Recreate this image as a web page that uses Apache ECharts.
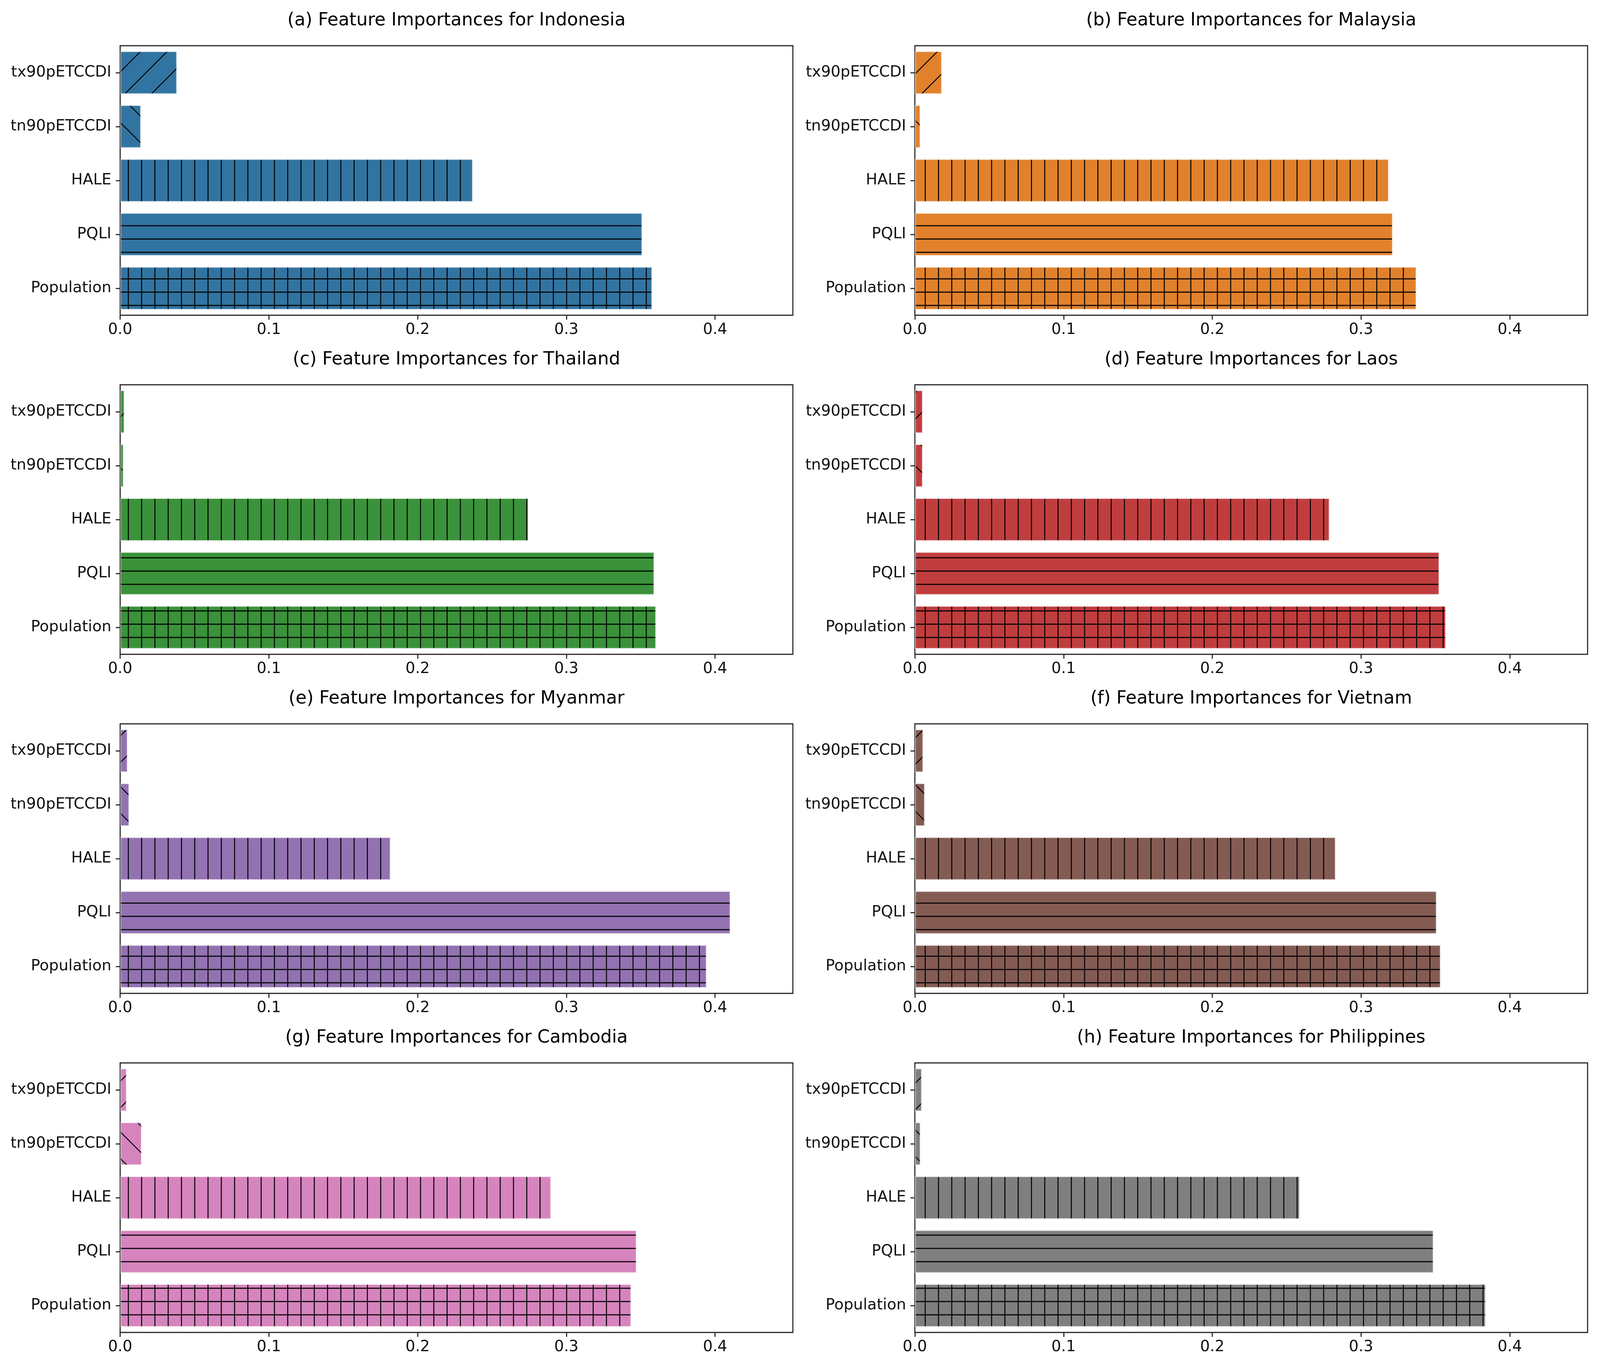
<!DOCTYPE html>
<html>
<head>
<meta charset="utf-8">
<script src="https://cdn.jsdelivr.net/npm/echarts@6/dist/echarts.min.js"></script>
<style>
html,body{margin:0;padding:0;background:#fff;overflow:hidden;}
#chart{width:100vw;height:100vh;}
</style>
</head>
<body>
<div id="chart"></div>
<script>
// ---- data ----
const features = ['tx90pETCCDI', 'tn90pETCCDI', 'HALE', 'PQLI', 'Population'];
const countries = ['Indonesia', 'Malaysia', 'Thailand', 'Laos', 'Myanmar', 'Vietnam', 'Cambodia', 'Philippines'];
const panelLetters = ['a', 'b', 'c', 'd', 'e', 'f', 'g', 'h'];
const indonesia   = [0.0383, 0.0141, 0.2372, 0.3511, 0.3578];
const malaysia    = [0.0183, 0.0038, 0.3187, 0.3214, 0.3373];
const thailand    = [0.0030, 0.0024, 0.2746, 0.3592, 0.3604];
const laos        = [0.0054, 0.0054, 0.2789, 0.3527, 0.3571];
const myanmar     = [0.0051, 0.0062, 0.1819, 0.4104, 0.3944];
const vietnam     = [0.0057, 0.0068, 0.2830, 0.3509, 0.3536];
const cambodia    = [0.0045, 0.0146, 0.2898, 0.3473, 0.3437];
const philippines = [0.0048, 0.0039, 0.2589, 0.3488, 0.3839];
const xTicks = [0.0, 0.1, 0.2, 0.3, 0.4];
const xMax = 0.4523;

const panelValues = [indonesia, malaysia, thailand, laos, myanmar, vietnam, cambodia, philippines];

// ---- styles ----
const colors = ['#3274a1', '#e1812c', '#3a923a', '#c03d3e', '#9372b2', '#845b53', '#d684bd', '#7f7f7f'];
const hatches = ['/', '\\', '|', '-', '+'];
const FONT = 'DejaVu Sans';

// scale from the 4381x3502 reference to the actual viewport
const el = document.getElementById('chart');
const VW = el.clientWidth || window.innerWidth;
const VH = el.clientHeight || window.innerHeight;
const sx = VW / 4381, sy = VH / 3502, s = Math.min(sx, sy);

function makeHatch(color, h) {
  const S = 73 * s;
  const N = Math.max(1, Math.round(S));
  const c = document.createElement('canvas');
  c.width = N; c.height = N;
  const g = c.getContext('2d');
  const k0 = N / 73;
  g.fillStyle = color;
  g.fillRect(0, 0, N, N);
  g.strokeStyle = '#000';
  g.lineCap = 'butt';
  const line = (x1, y1, x2, y2, w) => {
    g.lineWidth = w * k0;
    g.beginPath(); g.moveTo(x1 * k0, y1 * k0); g.lineTo(x2 * k0, y2 * k0); g.stroke();
  };
  const T = 73;
  if (h === '|' || h === '+') {
    [24.2, 60.7].forEach(x0 => line(x0, -2, x0, T + 2, 2.7));
  }
  if (h === '-' || h === '+') {
    [-0.2, 36.3, 72.8].forEach(y0 => line(-2, y0, T + 2, y0, 3.0));
  }
  if (h === '/') {
    for (let k = -1; k <= 2; k++) {
      const cc = 17 + 73 * k;
      line(cc + 10, -10, cc - T - 10, T + 10, 2.6);
    }
  }
  if (h === '\\') {
    for (let k = -2; k <= 1; k++) {
      const d = 6 + 73 * k;
      line(-10, d - 10, T + 10, d + T + 10, 2.6);
    }
  }
  return c;
}

// ---- layout (reference pixels) ----
const colLeft = [329, 2505];
const gridW = 1842, gridH = 690, rowTop0 = 117, rowPitch = 868;

const titles = [], grids = [], xAxes = [], yAxes = [], series = [];
countries.forEach((name, i) => {
  const row = Math.floor(i / 2), col = i % 2;
  const left = colLeft[col];
  const top = rowTop0 + rowPitch * row;
  titles.push({
    text: '(' + panelLetters[i] + ') Feature Importances for ' + name,
    left: (left + gridW / 2) * sx,
    top: (top - 87) * sy,
    textAlign: 'center',
    padding: 0,
    textStyle: { fontFamily: FONT, fontSize: 49 * s, fontWeight: 'normal', color: '#000' }
  });
  grids.push({
    left: left * sx, top: top * sy, width: gridW * sx, height: gridH * sy,
    show: true, borderColor: '#262626', borderWidth: 3 * s, backgroundColor: '#fff'
  });
  xAxes.push({
    type: 'value', gridIndex: i, min: 0, max: xMax, interval: 0.1,
    axisLine: { show: false },
    splitLine: { show: false },
    axisTick: { show: true, length: 12 * s, customValues: xTicks, lineStyle: { color: '#262626', width: 3 * s } },
    axisLabel: {
      customValues: xTicks,
      margin: 20 * s,
      fontFamily: FONT, fontSize: 42 * s, color: '#111',
      formatter: v => (v > 0.41 ? '' : Number(v).toFixed(1))
    }
  });
  yAxes.push({
    type: 'category', gridIndex: i, data: features, inverse: true,
    axisLine: { show: false },
    splitLine: { show: false },
    axisTick: { show: true, alignWithLabel: true, length: 12 * s, lineStyle: { color: '#262626', width: 3 * s } },
    axisLabel: { margin: 24 * s, fontFamily: FONT, fontSize: 42 * s, color: '#111' }
  });
  series.push({
    type: 'bar', xAxisIndex: i, yAxisIndex: i,
    barCategoryGap: '20%',
    data: panelValues[i].map((v, j) => ({
      value: v,
      itemStyle: {
        color: { image: makeHatch(colors[i], hatches[j]), repeat: 'repeat' },
        borderColor: 'rgba(255,255,255,0.45)',
        borderWidth: 3 * s
      }
    }))
  });
});

const chart = echarts.init(el, null, { renderer: 'canvas' });
chart.setOption({
  animation: false,
  backgroundColor: '#fff',
  title: titles,
  grid: grids,
  xAxis: xAxes,
  yAxis: yAxes,
  series: series
});
</script>
</body>
</html>
